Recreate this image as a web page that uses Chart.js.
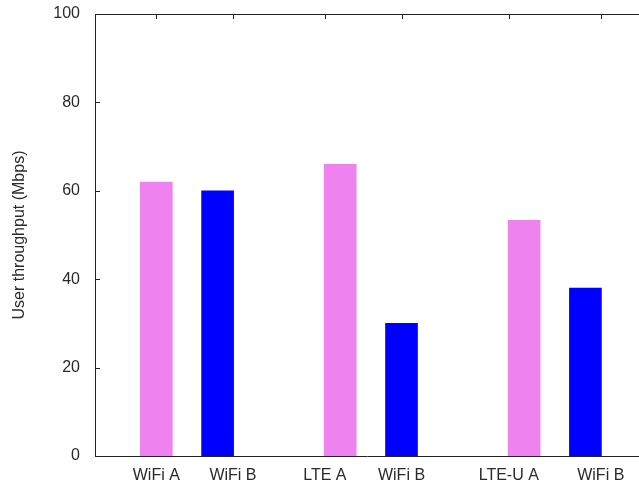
<!DOCTYPE html>
<html>
<head>
<meta charset="utf-8">
<script src="https://cdn.jsdelivr.net/npm/chart.js@4"></script>
<style>
  body { margin: 0; background: #fff; }
  #chart { display: block; }
</style>
</head>
<body>
<canvas id="chart" width="639" height="487"></canvas>
<script>
// bar labels, in drawing order
const categories = ["WiFi A", "WiFi B", "LTE A", "WiFi B", "LTE-U A", "WiFi B"];
// where the x tick labels sit (x units, one unit per bar slot)
const tickSlots = [1, 2.25, 3.75, 5, 6.75, 8.25];
// first bar of each pair (violet) and second (blue)
const slotsA = [1, 4, 7];
const throughputA = [62, 66, 53.3];
const slotsB = [2, 5, 8];
const throughputB = [60, 30, 38];
const yTicks = [0, 20, 40, 60, 80, 100];

const font = { family: "'Liberation Sans', Arial, sans-serif", size: 16 };
const textColor = "#2a2a2a";
const axisColor = "#222";

// gnuplot style frame: top line plus small inward ticks
const frameTicks = {
  id: "frameTicks",
  afterDraw(chart) {
    const { ctx, chartArea: a, scales } = chart;
    ctx.save();
    ctx.strokeStyle = axisColor;
    ctx.lineWidth = 1;
    ctx.beginPath();
    ctx.moveTo(a.left, Math.round(a.top) + 0.5);
    ctx.lineTo(a.right, Math.round(a.top) + 0.5);
    tickSlots.forEach((v) => {
      const x = Math.round(scales.x.getPixelForValue(v)) + 0.5;
      ctx.moveTo(x, a.top);
      ctx.lineTo(x, a.top + 5);
    });
    yTicks.slice(1, -1).forEach((v) => {
      const y = Math.round(scales.y.getPixelForValue(v)) + 0.5;
      ctx.moveTo(a.left, y);
      ctx.lineTo(a.left + 5, y);
    });
    ctx.stroke();
    ctx.restore();
  },
};

new Chart(document.getElementById("chart"), {
  type: "bar",
  data: {
    datasets: [
      {
        data: slotsA.map((x, i) => ({ x: x, y: throughputA[i] })),
        backgroundColor: "#ee82ee",
      },
      {
        data: slotsB.map((x, i) => ({ x: x, y: throughputB[i] })),
        backgroundColor: "#0000ff",
      },
    ],
  },
  options: {
    responsive: false,
    animation: false,
    layout: { padding: { top: 14, left: 0, right: 0, bottom: 0 } },
    datasets: { bar: { barThickness: 32, grouped: false } },
    plugins: { legend: { display: false }, tooltip: { enabled: false } },
    scales: {
      x: {
        type: "linear",
        min: 0,
        max: 8.874,
        offset: false,
        grid: { display: false, drawTicks: false },
        border: { display: true, color: axisColor, width: 1 },
        afterBuildTicks: (scale) => {
          scale.ticks = tickSlots.map((v) => ({ value: v }));
        },
        afterFit: (scale) => {
          scale.height = 31;
          scale.paddingLeft = 0;
          scale.paddingRight = 0;
        },
        ticks: {
          autoSkip: false,
          maxRotation: 0,
          padding: 10,
          color: textColor,
          font: font,
          callback: (v, i) => categories[i],
        },
      },
      y: {
        min: 0,
        max: 100,
        grid: { display: false, drawTicks: false },
        border: { display: true, color: axisColor, width: 1 },
        afterBuildTicks: (scale) => {
          scale.ticks = yTicks.map((v) => ({ value: v }));
        },
        afterFit: (scale) => {
          scale.width = 95;
          scale.paddingTop = 0;
          scale.paddingBottom = 0;
        },
        ticks: { padding: 15, color: textColor, font: font },
        title: {
          display: true,
          text: "User throughput (Mbps)",
          color: textColor,
          font: font,
          padding: { top: 10, bottom: 0 },
        },
      },
    },
  },
  plugins: [frameTicks],
});
</script>
</body>
</html>
